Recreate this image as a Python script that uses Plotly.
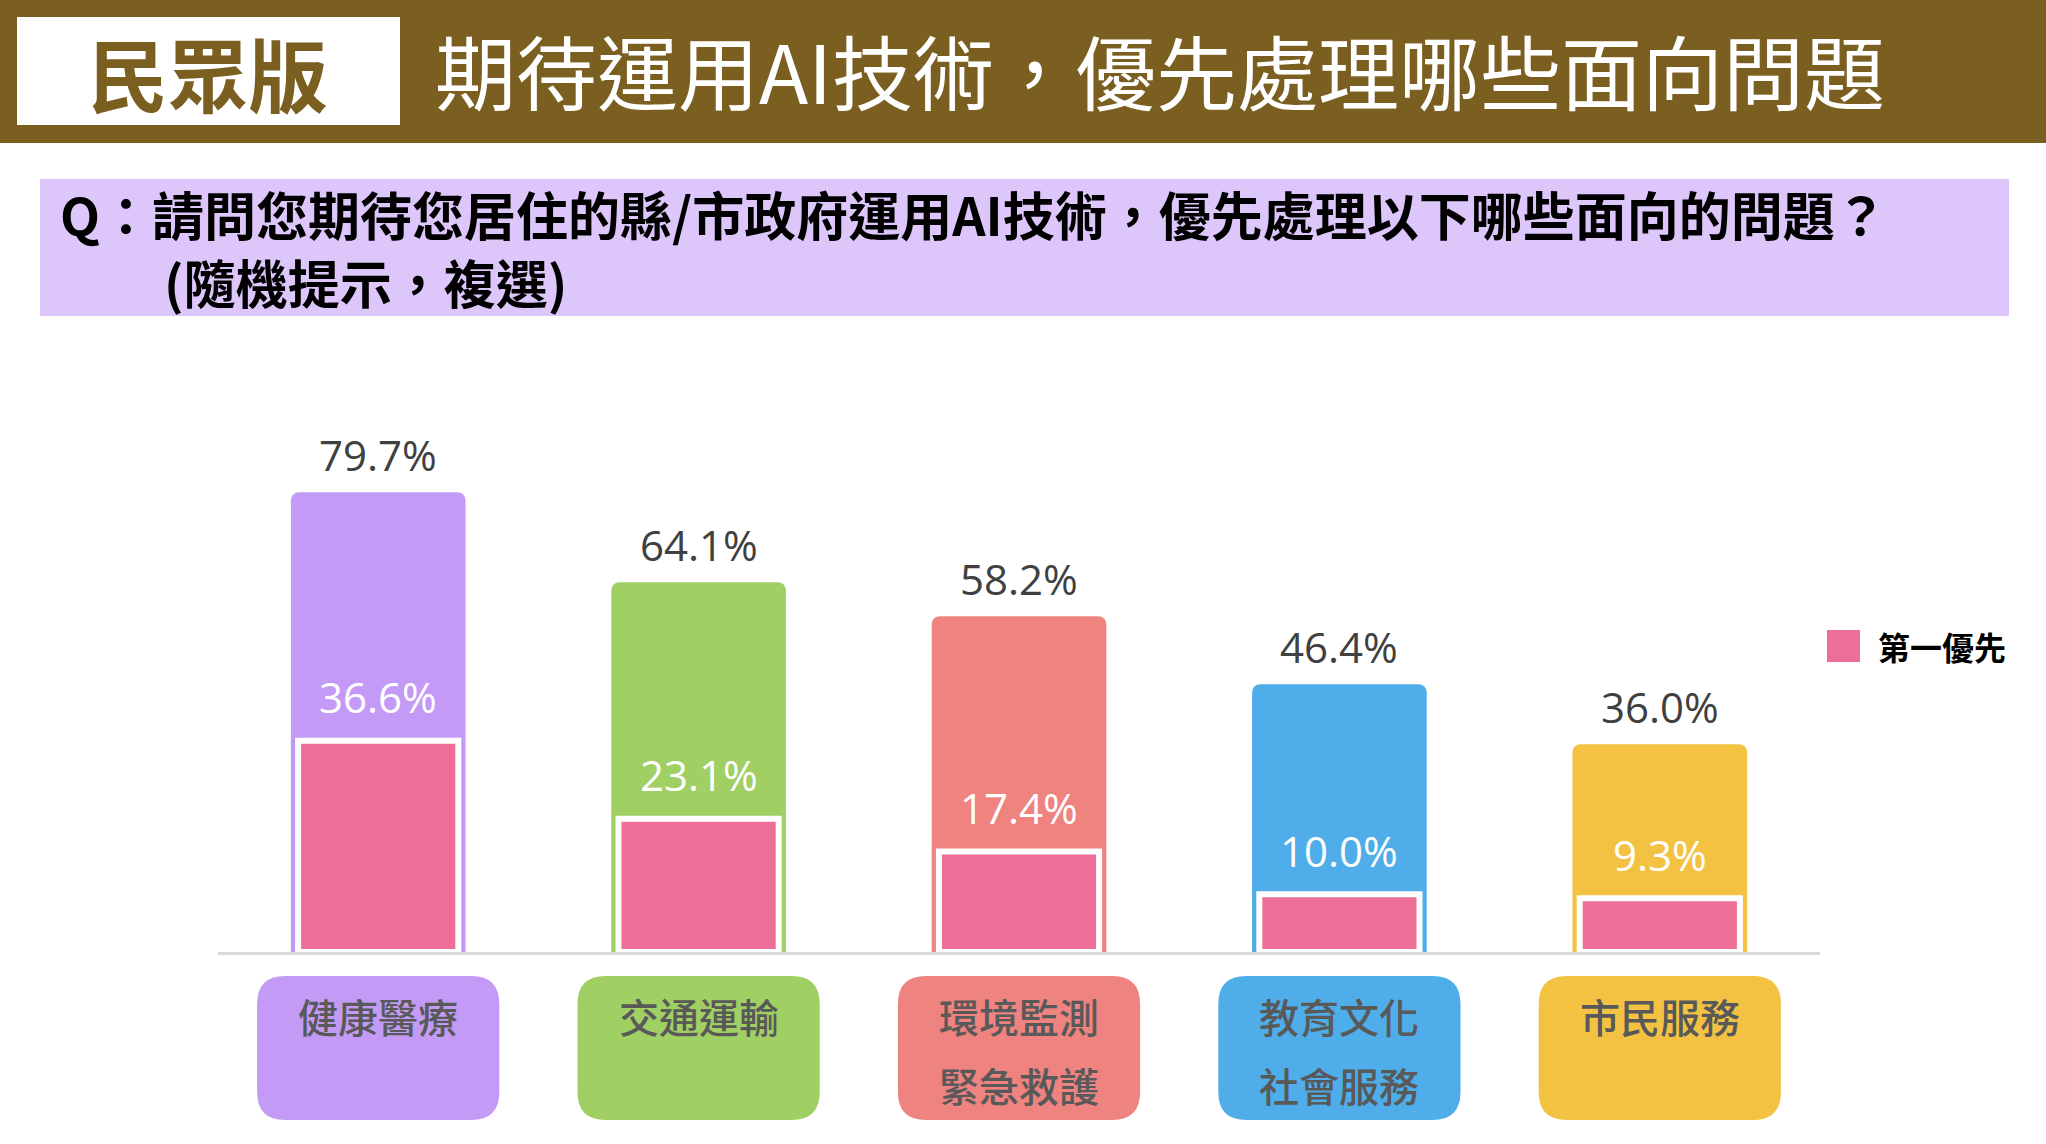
import plotly.graph_objects as go

# 資料
categories = ["健康醫療", "交通運輸", "環境監測\n緊急救護", "教育文化\n社會服務", "市民服務"]
total_pct = [79.7, 64.1, 58.2, 46.4, 36.0]
first_pct = [36.6, 23.1, 17.4, 10.0, 9.3]
bar_colors = ["#C39BF7", "#A0CF63", "#EE8380", "#4FADEA", "#F4C243"]
first_color = "#ED6F97"

header_tag = "民眾版"
header_title = "期待運用AI技術，優先處理哪些面向問題"
question_1 = "Q：請問您期待您居住的縣/市政府運用AI技術，優先處理以下哪些面向的問題？"
question_2 = "(隨機提示，複選)"
legend_name = "第一優先"

CJK = "Noto Sans CJK TC"
NUM = "Open Sans"
W, H = 2046, 1144

fig = go.Figure()

fig.add_trace(go.Bar(
    x=categories, y=total_pct,
    width=0.545,
    marker=dict(color=bar_colors, line=dict(width=0), cornerradius=8),
    showlegend=False, hoverinfo="skip"
))
fig.add_trace(go.Bar(
    x=categories, y=first_pct,
    width=0.5,
    name=legend_name,
    marker=dict(color=first_color, line=dict(color="white", width=6), cornerradius=4),
    showlegend=False
))

# 數值標籤
for cat, t, f in zip(categories, total_pct, first_pct):
    fig.add_annotation(x=cat, y=t, text=f"{t:.1f}%", showarrow=False,
                       yanchor="middle", yshift=38,
                       font=dict(family=NUM, size=42, color="#404040"))
    fig.add_annotation(x=cat, y=f, text=f"{f:.1f}%", showarrow=False,
                       yanchor="middle", yshift=44,
                       font=dict(family=NUM, size=42, color="white"))

# 類別標籤方塊
hw = 0.378
rx, ry = 28 / 320.4, 28 / H
yb, yt = 0.021, 0.1469
for i, (cat, col) in enumerate(zip(categories, bar_colors)):
    x0, x1 = i - hw, i + hw
    path = (f"M {x0+rx},{yb} L {x1-rx},{yb} Q {x1},{yb} {x1},{yb+ry} "
            f"L {x1},{yt-ry} Q {x1},{yt} {x1-rx},{yt} L {x0+rx},{yt} "
            f"Q {x0},{yt} {x0},{yt-ry} L {x0},{yb+ry} Q {x0},{yb} {x0+rx},{yb} Z")
    fig.add_shape(type="path", path=path, xref="x", yref="paper",
                  fillcolor=col, line=dict(width=0), layer="below")
    for j, line in enumerate(cat.split("\n")):
        fig.add_annotation(x=cat, y=[0.1115, 0.0517][j], yref="paper", text=line,
                           showarrow=False, yanchor="middle",
                           font=dict(family=CJK, size=40, color="#595959", weight=500))

# 標題區
fig.add_shape(type="rect", xref="paper", yref="paper", x0=0, x1=1, y0=0.875, y1=1,
              fillcolor="#7B5F20", line=dict(width=0), layer="below")
fig.add_shape(type="rect", xref="paper", yref="paper", x0=17 / W, x1=400 / W,
              y0=1 - 125 / H, y1=1 - 17 / H, fillcolor="white", line=dict(width=0))
fig.add_annotation(xref="paper", yref="paper", x=208 / W, y=1 - 71 / H, text=header_tag,
                   showarrow=False, xanchor="center", yanchor="middle",
                   font=dict(family=CJK, size=80, color="#7B5F20", weight="bold"))
fig.add_annotation(xref="paper", yref="paper", x=433 / W, y=1 - 68 / H, text=header_title,
                   showarrow=False, xanchor="left", yanchor="middle",
                   font=dict(family=CJK, size=81, color="white"))

# 題目區
fig.add_shape(type="rect", xref="paper", yref="paper", x0=40 / W, x1=2009 / W,
              y0=1 - 316 / H, y1=1 - 179 / H, fillcolor="#DCC6FA", line=dict(width=0),
              layer="below")
fig.add_annotation(xref="paper", yref="paper", x=58 / W, y=1 - 248 / H,
                   text=question_1 + "<br>　　" + question_2,
                   showarrow=False, xanchor="left", yanchor="middle", align="left",
                   font=dict(family=CJK, size=52, color="black", weight="bold"))

# 圖例
fig.add_shape(type="rect", xref="paper", yref="paper", x0=1827 / W, x1=1860 / W,
              y0=1 - 662 / H, y1=1 - 630 / H, fillcolor=first_color, line=dict(width=0))
fig.add_annotation(xref="paper", yref="paper", x=1876 / W, y=1 - 646 / H, text=legend_name,
                   showarrow=False, xanchor="left", yanchor="middle",
                   font=dict(family=CJK, size=32, color="black", weight="bold"))

fig.update_layout(
    width=W, height=H,
    margin=dict(l=0, r=0, t=0, b=0),
    paper_bgcolor="white", plot_bgcolor="white",
    barmode="overlay",
    xaxis=dict(domain=[218 / W, 1820 / W], range=[-0.5, 4.5], showticklabels=False,
               showgrid=False, showline=True, linecolor="#D9D9D9", linewidth=3,
               ticks="", fixedrange=True),
    yaxis=dict(domain=[192 / H, 769 / H], range=[0, 100], visible=False,
               showgrid=False, zeroline=False, fixedrange=True),
)

fig.write_html("out.html", config={"displayModeBar": False},
               post_script="document.body.style.margin='0';")
